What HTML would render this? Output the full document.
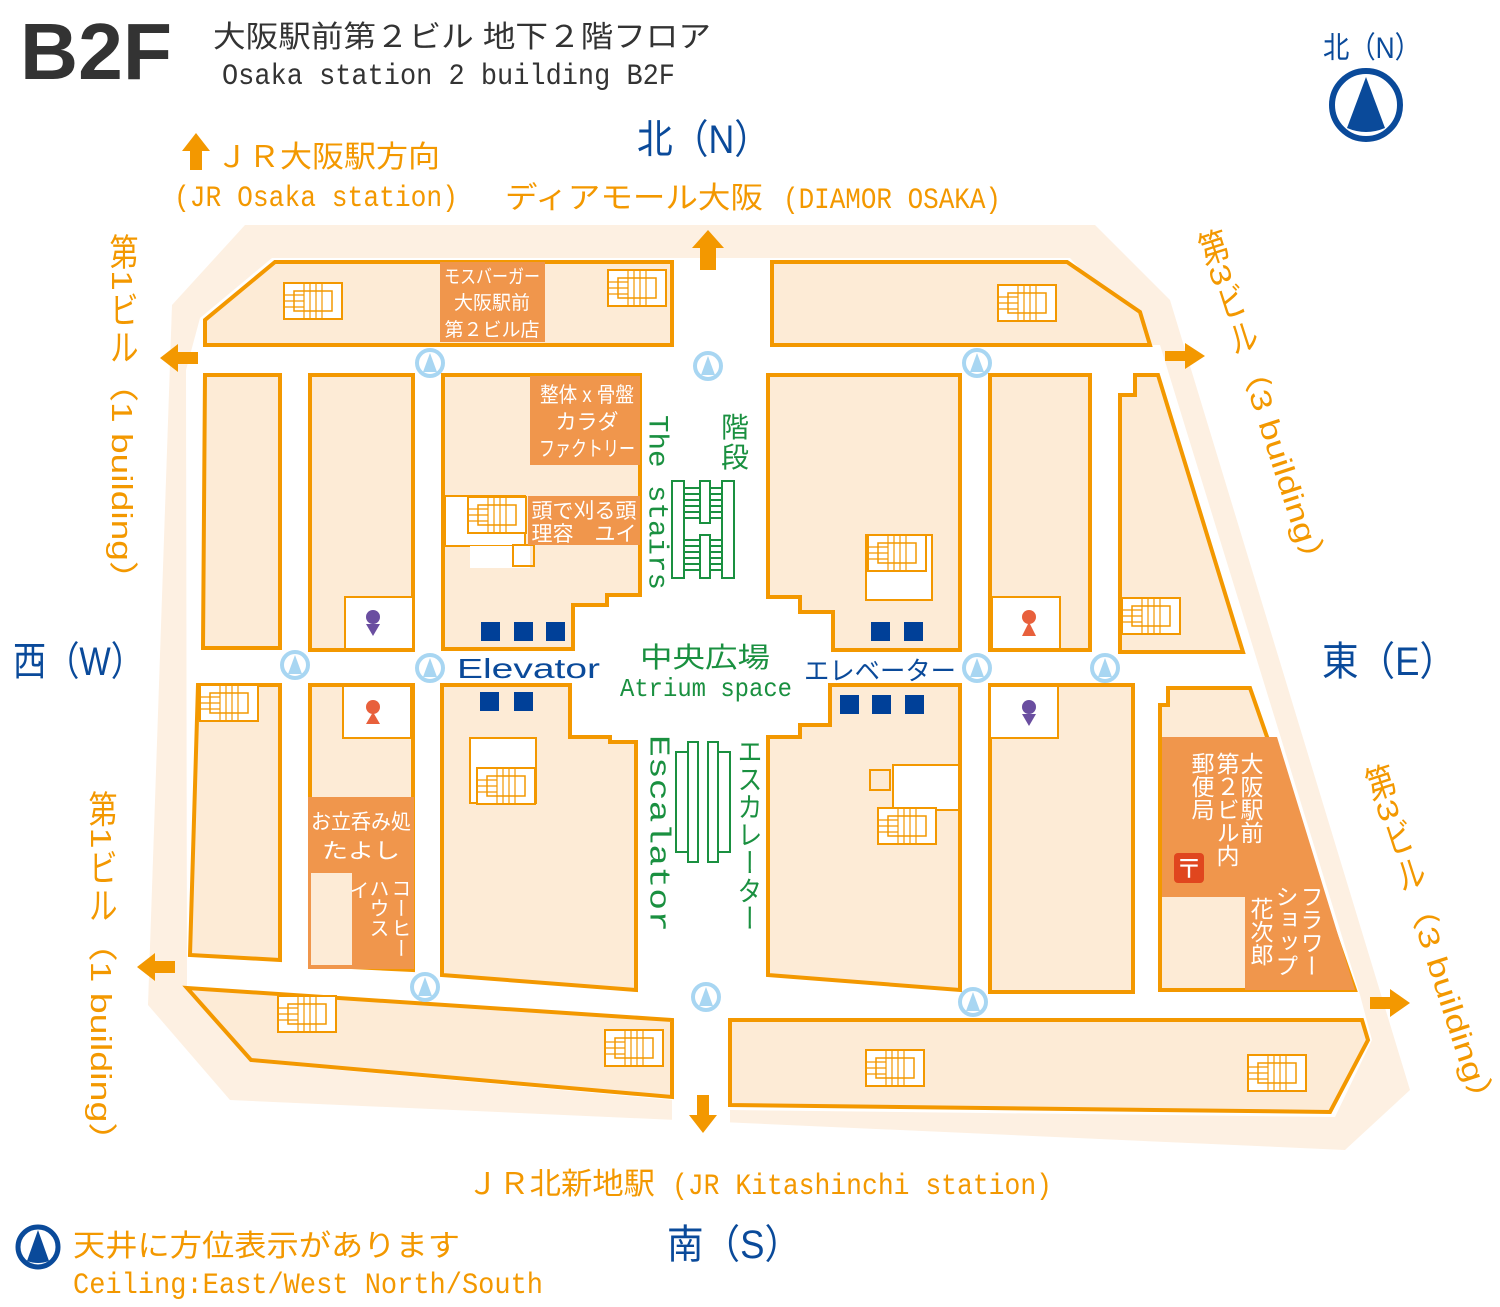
<!DOCTYPE html>
<html><head><meta charset="utf-8"><style>
html,body{margin:0;padding:0;background:#fff;}
svg{display:block}
text{font-family:"Liberation Sans","Noto Sans CJK JP",sans-serif;}
.m{font-family:"Liberation Mono","Noto Sans CJK JP",monospace;}
.v{writing-mode:vertical-rl;}
.o{fill:#f39800}
.b{fill:#0a4a9a}
.g{fill:#1a9040}
.w{fill:#fff}
.blk{fill:#fdebd6;stroke:#f39800;stroke-width:4;stroke-linejoin:miter}
.lab{fill:#f0964c}
</style></head><body>
<svg width="1500" height="1307" viewBox="0 0 1500 1307" xmlns="http://www.w3.org/2000/svg">
<defs>
<g id="st">
<rect x="0" y="0" width="58" height="36" fill="#fff" stroke="#f39800" stroke-width="2"/>
<rect x="10" y="8" width="38" height="20" fill="none" stroke="#f39800" stroke-width="1.5"/>
<path d="M20 0V36M26 0V36M32 0V36M38 0V36M0 12H20M0 18H20M0 24H20" stroke="#f39800" stroke-width="1.2"/>
</g>
<g id="cp">
<circle cx="0" cy="0" r="13" fill="#fff" stroke="#a8d6f2" stroke-width="4"/>
<path d="M0 -10L-7 9H7Z" fill="#a8d6f2"/>
</g>
</defs>

<!-- outer zone -->
<polygon points="172,305 245,225 1095,225 1170,300 1410,1090 1345,1150 230,1100 148,1005" fill="#fdf0e2"/>
<polygon points="200,318 272,258 1070,258 1150,345 1160,345 1360,995 1372,1040 1335,1117 730,1110 730,1127 672,1127 672,1100 251,1062 187,988 186,370" fill="#fff"/>

<!-- blocks -->
<polygon class="blk" points="205,345 205,320 275,262 672,262 672,345" stroke-width="5"/>
<polygon class="blk" points="772,262 1067,262 1140,312 1150,345 772,345" stroke-width="5"/>
<polygon class="blk" points="205,375 280,375 280,648 203,648" stroke-width="5"/>
<rect class="blk" x="310" y="375" width="103" height="275"/>
<polygon class="blk" points="443,375 640,375 640,595 607,595 607,605 573,605 573,649 443,649"/>
<polygon class="blk" points="768,375 960,375 960,650 833,650 833,612 800,612 800,597 768,597"/>
<rect class="blk" x="990" y="375" width="100" height="275"/>
<polygon class="blk" points="1120,395 1135,395 1135,375 1158,375 1243,652 1120,652" stroke-width="5"/>

<polygon class="blk" points="198,685 280,685 280,960 190,955" stroke-width="5"/>
<polygon class="blk" points="310,685 413,685 413,970 310,965"/>
<polygon class="blk" points="442,685 570,685 570,737 610,737 610,742 636,742 636,990 442,975"/>
<polygon class="blk" points="830,685 960,685 960,990 768,975 768,737 800,737 800,725 830,725"/>
<polygon class="blk" points="990,685 1133,685 1133,992 990,992"/>
<polygon class="blk" points="1160,705 1168,705 1168,688 1250,688 1355,990 1160,990" stroke-width="5"/>

<polygon class="blk" points="187,988 672,1020 672,1097 251,1060" stroke-width="5"/>
<polygon class="blk" points="730,1020 1362,1020 1368,1040 1330,1112 730,1105" stroke-width="5"/>

<!-- white corridor cutouts / small rooms -->
<rect x="445" y="496" width="80" height="50" fill="#fff" stroke="#f39800" stroke-width="2"/>
<rect x="470" y="546" width="60" height="22" fill="#fff"/>
<rect x="513" y="545" width="21" height="21" fill="none" stroke="#f39800" stroke-width="2"/>
<rect x="345" y="597" width="68" height="52" fill="#fff" stroke="#f39800" stroke-width="2"/>
<rect x="343" y="686" width="68" height="52" fill="#fff" stroke="#f39800" stroke-width="2"/>
<rect x="992" y="597" width="68" height="52" fill="#fff" stroke="#f39800" stroke-width="2"/>
<rect x="990" y="686" width="68" height="52" fill="#fff" stroke="#f39800" stroke-width="2"/>
<rect x="866" y="535" width="66" height="65" fill="#fff" stroke="#f39800" stroke-width="2"/>
<rect x="470" y="738" width="66" height="65" fill="#fff" stroke="#f39800" stroke-width="2"/>
<rect x="893" y="765" width="66" height="45" fill="#fff" stroke="#f39800" stroke-width="2"/>
<rect x="870" y="770" width="20" height="20" fill="none" stroke="#f39800" stroke-width="2"/>

<!-- stairs -->
<use href="#st" x="284" y="283"/>
<use href="#st" x="608" y="270"/>
<use href="#st" x="998" y="285"/>
<use href="#st" x="468" y="497"/>
<use href="#st" x="868" y="535"/>
<use href="#st" x="1122" y="598"/>
<use href="#st" x="200" y="685"/>
<use href="#st" x="477" y="768"/>
<use href="#st" x="878" y="808"/>
<use href="#st" x="278" y="996"/>
<use href="#st" x="605" y="1030"/>
<use href="#st" x="866" y="1050"/>
<use href="#st" x="1248" y="1055"/>

<!-- labels -->
<rect class="lab" x="440" y="262" width="105" height="80"/>
<text class="w" x="492" y="283" font-size="19" text-anchor="middle" textLength="96" lengthAdjust="spacingAndGlyphs">モスバーガー</text>
<text class="w" x="492" y="309" font-size="19" text-anchor="middle">大阪駅前</text>
<text class="w" x="492" y="336" font-size="19" text-anchor="middle">第２ビル店</text>
<rect class="lab" x="530" y="376" width="110" height="89"/>
<text class="w" x="587" y="402" font-size="21" text-anchor="middle" textLength="94" lengthAdjust="spacingAndGlyphs">整体 x 骨盤</text>
<text class="w" x="587" y="429" font-size="21" text-anchor="middle">カラダ</text>
<text class="w" x="587" y="456" font-size="21" text-anchor="middle" textLength="96" lengthAdjust="spacingAndGlyphs">ファクトリー</text>
<rect class="lab" x="528" y="496" width="112" height="49"/>
<text class="w" x="584" y="518" font-size="21" text-anchor="middle">頭で刈る頭</text>
<text class="w" x="584" y="541" font-size="21" text-anchor="middle">理容　ユイ</text>
<rect class="lab" x="308" y="797" width="106" height="172"/>
<rect x="311" y="873" width="41" height="92" fill="#fdebd6"/>
<text class="w" x="361" y="829" font-size="21" text-anchor="middle" textLength="100" lengthAdjust="spacingAndGlyphs">お立呑み処</text>
<text class="w" x="361" y="858" font-size="21" text-anchor="middle" textLength="78" lengthAdjust="spacingAndGlyphs">たよし</text>
<text class="w v" x="399" y="878" font-size="20">コーヒー</text>
<text class="w v" x="377" y="878" font-size="20">ハウス</text>
<text class="w v" x="357" y="880" font-size="20">イ</text>
<polygon class="lab" points="1162,737 1277,737 1355,990 1245,990 1245,897 1162,897"/>
<text class="w v" x="1250" y="752" font-size="23">大阪駅前</text>
<text class="w v" x="1226" y="752" font-size="23">第２ビル内</text>
<text class="w v" x="1201" y="752" font-size="23">郵便局</text>
<rect x="1174" y="853" width="30" height="30" rx="4" fill="#e0461e"/>
<text class="w" x="1189" y="878" font-size="26" text-anchor="middle">〒</text>
<text class="w v" x="1310" y="885" font-size="23">フラワー</text>
<text class="w v" x="1285" y="885" font-size="23">ショップ</text>
<text class="w v" x="1260" y="897" font-size="23">花次郎</text>

<!-- elevators -->
<g fill="#004098">
<rect x="481" y="622" width="19" height="19"/><rect x="514" y="622" width="19" height="19"/><rect x="546" y="622" width="19" height="19"/>
<rect x="480" y="692" width="19" height="19"/><rect x="514" y="692" width="19" height="19"/>
<rect x="871" y="622" width="19" height="19"/><rect x="904" y="622" width="19" height="19"/>
<rect x="840" y="695" width="19" height="19"/><rect x="872" y="695" width="19" height="19"/><rect x="905" y="695" width="19" height="19"/>
</g>

<!-- toilets -->
<circle cx="373" cy="617" r="7" fill="#6a4ea0"/><path d="M366 624H380L373 636Z" fill="#6a4ea0"/>
<circle cx="373" cy="707" r="7" fill="#e8603c"/><path d="M373 712L366 724H380Z" fill="#e8603c"/>
<circle cx="1029" cy="617" r="7" fill="#e8603c"/><path d="M1029 622L1022 636H1036Z" fill="#e8603c"/>
<circle cx="1029" cy="707" r="7" fill="#6a4ea0"/><path d="M1022 714H1036L1029 726Z" fill="#6a4ea0"/>

<!-- green stairs and escalator -->
<g fill="none" stroke="#1a9040" stroke-width="2">
<rect x="672" y="481" width="12" height="97"/><rect x="700" y="481" width="10" height="42"/><rect x="700" y="535" width="10" height="43"/><rect x="722" y="481" width="12" height="97"/>
<path d="M684 488H700M684 494H700M684 500H700M684 506H700M684 512H700M684 518H700M710 488H722M710 494H722M710 500H722M710 506H722M710 512H722M710 518H722M684 540H700M684 546H700M684 552H700M684 558H700M684 564H700M684 570H700M710 540H722M710 546H722M710 552H722M710 558H722M710 564H722M710 570H722"/>
<rect x="676" y="752" width="12" height="100"/><rect x="688" y="742" width="10" height="120"/><rect x="708" y="742" width="10" height="120"/><rect x="718" y="752" width="12" height="100"/>
</g>

<!-- compass icons -->
<use href="#cp" x="430" y="363"/><use href="#cp" x="708" y="366"/><use href="#cp" x="977" y="363"/>
<use href="#cp" x="295" y="665"/><use href="#cp" x="430" y="668"/><use href="#cp" x="977" y="668"/><use href="#cp" x="1105" y="668"/>
<use href="#cp" x="425" y="987"/><use href="#cp" x="706" y="997"/><use href="#cp" x="973" y="1002"/>

<!-- center texts -->
<text class="g m v" x="656" y="415" font-size="28" textLength="175" lengthAdjust="spacingAndGlyphs">The stairs</text>
<text class="g" x="735" y="437" font-size="28" text-anchor="middle">階</text>
<text class="g" x="735" y="467" font-size="28" text-anchor="middle">段</text>
<text class="g m v" x="658" y="735" font-size="29" textLength="197" lengthAdjust="spacingAndGlyphs">Escalator</text>
<text class="g v" x="748" y="737" font-size="25" textLength="195" lengthAdjust="spacingAndGlyphs">エスカレーター</text>
<text class="g" x="640" y="667" font-size="28" textLength="130" lengthAdjust="spacingAndGlyphs">中央広場</text>
<text class="g m" x="620" y="696" font-size="26" textLength="172" lengthAdjust="spacingAndGlyphs">Atrium space</text>
<text class="b" x="457" y="678" font-size="28" textLength="143" lengthAdjust="spacingAndGlyphs">Elevator</text>
<text class="b" x="804" y="680" font-size="26" textLength="152" lengthAdjust="spacingAndGlyphs">エレベーター</text>

<!-- arrows -->
<g class="o">
<path d="M700 270V248H692L708 230L724 248H716V270Z"/>
<path d="M198 352H178V344L160 358L178 372V364H198Z"/>
<path d="M1165 351H1185V343L1205 356L1185 369V361H1165Z"/>
<path d="M175 961H155V953L137 967L155 981V973H175Z"/>
<path d="M1370 997H1390V989L1410 1003L1390 1017V1009H1370Z"/>
<path d="M697 1095V1115H689L703 1133L717 1115H709V1095Z"/>
<path d="M190 170V151H182L196 133L210 151H202V170Z"/>
</g>

<!-- header -->
<text x="20" y="79" font-size="80" font-weight="bold" fill="#333" textLength="152" lengthAdjust="spacingAndGlyphs">B2F</text>
<text x="213" y="47" font-size="30" fill="#333" textLength="498" lengthAdjust="spacingAndGlyphs">大阪駅前第２ビル 地下２階フロア</text>
<text class="m" x="222" y="84" font-size="30" fill="#333" textLength="453" lengthAdjust="spacingAndGlyphs">Osaka station 2 building B2F</text>
<text class="b" x="1323" y="58" font-size="30" textLength="98" lengthAdjust="spacingAndGlyphs">北（N）</text>
<circle cx="1366" cy="105" r="34" fill="#fff" stroke="#0a4a9a" stroke-width="6"/>
<path d="M1366 77L1347 128Q1366 136 1385 128Z" fill="#0a4a9a"/>

<!-- compass labels -->
<text class="b" x="637" y="153" font-size="40" textLength="133" lengthAdjust="spacingAndGlyphs">北（N）</text>
<text class="b" x="13" y="675" font-size="40" textLength="131" lengthAdjust="spacingAndGlyphs">西（W）</text>
<text class="b" x="1322" y="675" font-size="40" textLength="134" lengthAdjust="spacingAndGlyphs">東（E）</text>
<text class="b" x="667" y="1258" font-size="40" textLength="134" lengthAdjust="spacingAndGlyphs">南（S）</text>

<text class="o" x="216" y="167" font-size="30" textLength="224" lengthAdjust="spacingAndGlyphs">ＪＲ大阪駅方向</text>
<text class="o m" x="174" y="206" font-size="30" textLength="284" lengthAdjust="spacingAndGlyphs">(JR Osaka station)</text>
<text class="o" x="505" y="208" font-size="30" textLength="258" lengthAdjust="spacingAndGlyphs">ディアモール大阪</text>
<text class="o m" x="783" y="208" font-size="30" textLength="218" lengthAdjust="spacingAndGlyphs">(DIAMOR OSAKA)</text>
<text class="o" x="467" y="1194" font-size="30" textLength="188" lengthAdjust="spacingAndGlyphs">ＪＲ北新地駅</text>
<text class="o m" x="672" y="1194" font-size="30" textLength="380" lengthAdjust="spacingAndGlyphs">(JR Kitashinchi station)</text>

<text class="o v" x="121" y="233" font-size="29" textLength="365" lengthAdjust="spacingAndGlyphs">第1ビル（1 building）</text>
<text class="o v" x="100" y="790" font-size="29" textLength="370" lengthAdjust="spacingAndGlyphs">第1ビル（1 building）</text>
<text class="o v" x="1205" y="230" font-size="29" textLength="365" lengthAdjust="spacingAndGlyphs" transform="rotate(-18 1205 230)">第3ビル（3 building）</text>
<text class="o v" x="1372" y="765" font-size="29" textLength="370" lengthAdjust="spacingAndGlyphs" transform="rotate(-18 1372 765)">第3ビル（3 building）</text>

<!-- legend -->
<circle cx="38" cy="1247" r="20" fill="#fff" stroke="#0a4a9a" stroke-width="5"/>
<path d="M38 1230L27 1261Q38 1265 49 1261Z" fill="#0a4a9a"/>
<text class="o" x="73" y="1256" font-size="30" textLength="387" lengthAdjust="spacingAndGlyphs">天井に方位表示があります</text>
<text class="o m" x="73" y="1293" font-size="30" textLength="470" lengthAdjust="spacingAndGlyphs">Ceiling:East/West North/South</text>
</svg>
</body></html>
